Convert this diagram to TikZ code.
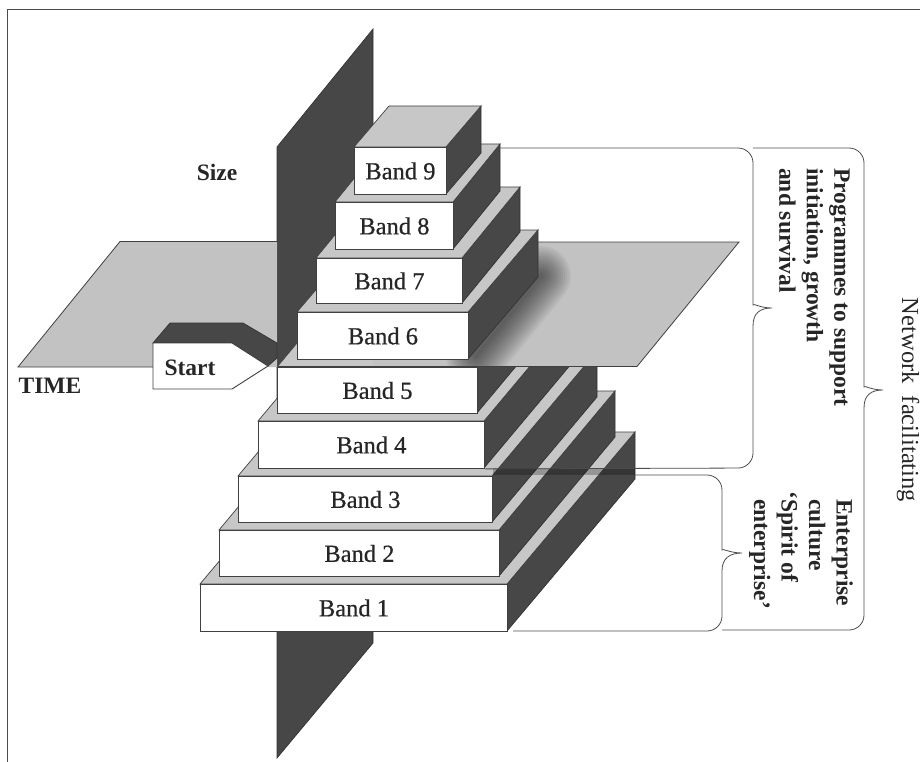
\documentclass[tikz,border=0pt]{standalone}
\usepackage{fontspec}
\setmainfont{Liberation Serif}
\newfontfamily\bandfont[FakeBold=0.6]{Liberation Serif}
\begin{document}
\begin{tikzpicture}[
      x=1pt, y=-1pt,
      darkface/.style={fill=black!72, draw=black!80, line width=0.7pt},
      lightface/.style={fill=black!22, draw=black!75, line width=0.7pt},
      whiteface/.style={fill=white, draw=black!75, line width=0.9pt},
      brace/.style={draw=black!70, line width=0.8pt, rounded corners=15pt},
      bandlabel/.style={font=\fontsize{24.5}{28}\bandfont, text=black!85, inner sep=0pt},
      boldlabel/.style={font=\fontsize{23.5}{27.5}\selectfont\bfseries, text=black!85, inner sep=0pt},
      sidelabel/.style={boldlabel, rotate=-90, align=left, anchor=north west}
    ]
      \useasboundingbox (0,0) rectangle (920,762);

      % Frame
      \draw[black!70, line width=0.9pt] (920,9) -- (7,9) -- (7,762);

      % Vertical plane
      \coordinate (sizetop) at (373,29);
      \coordinate (sizebot) at (277,758);
      \draw[darkface] (277,147) -- (sizetop) -- (373,643) -- (sizebot) -- cycle;

      % Bands under the time plane
      \foreach \n/\l/\t/\r/\b/\dx/\dy in {1/200/584/507/631/128/152, 2/219/530/499/576/116/139,
          3/238/476/492/522/105/125, 4/258/421/484/468/93/111, 5/277/367/477/413/81/97} {
        \draw[darkface] (\r,\t) -- ++(\dx,-\dy) -- ++(0,\b-\t) -- (\r,\b) -- cycle;
        \draw[lightface] (\l,\t) -- ++(\dx,-\dy) -- ++(\r-\l,0) -- (\r,\t) -- cycle;
        \node[whiteface, bandlabel, minimum width=\r-\l, minimum height=\b-\t, anchor=north west] (band\n) at (\l,\t) {Band \n};
      }

      % Time plane
      \coordinate (timeleft) at (18,367);
      \fill[black!24] (373,242) -- (739,242) -- (637,366.5) -- (373,366.5) -- cycle;
      \begin{scope}
        \clip (373,242) -- (739,242) -- (637,366.5) -- (373,366.5) -- cycle;
        \foreach \w in {4,8,...,60}
          \draw[black, opacity=0.045, line width=\w, line cap=round] (476,356) -- (541,276);
      \end{scope}
      \draw[black!75, line width=0.8pt] (373,242) -- (739,242) -- (637,366.5) -- (277,366.5);
      \fill[black!24] (120,241.5) -- (277,241.5) -- (277,367) -- (timeleft) -- cycle;
      \draw[black!75, line width=0.8pt] (277,241.5) -- (120,241.5) -- (timeleft) -- (153,367);

      % Darker line across the lower steps
      \fill[black, opacity=0.25] (493,468) rectangle (635,475);

      % Bands above the time plane
      \foreach \n/\l/\t/\r/\b/\dx/\dy in {6/297/312/468/359/70/82, 7/316/258/462/303/58/71,
          8/335/202/453/249/47/58, 9/354/147/446/194/35/41} {
        \draw[darkface] (\r,\t) -- ++(\dx,-\dy) -- ++(0,\b-\t) -- (\r,\b) -- cycle;
        \draw[lightface] (\l,\t) -- ++(\dx,-\dy) -- ++(\r-\l,0) -- (\r,\t) -- cycle;
        \node[whiteface, bandlabel, minimum width=\r-\l, minimum height=\b-\t, anchor=north west] (band\n) at (\l,\t) {Band \n};
      }

      % Start marker
      \draw[darkface] (153,343) -- (170,323) -- (243,323) -- (277,343) -- (277,358) -- (268,366) -- (232,343) -- cycle;
      \draw[whiteface] (153,343) -- (232,343) -- (268,366) -- (232,389) -- (153,389) -- cycle;
      \node[boldlabel] (start) at (190,368) {Start};

      % Axis labels
      \node[boldlabel] (size) at (217,172) {Size};
      \node[boldlabel] (time) at (50,386) {TIME};

      % Braces
      \draw[brace] (500,148) -- (753,148) -- (753,290) [sharp corners] .. controls (753,303) and (760,308) .. (772,308)
        .. controls (760,308) and (753,313) .. (753,326) [rounded corners=15pt] -- (753,468) -- (band4.south east);
      \draw[brace] (635,475) -- (722,475) -- (722,535) [sharp corners] .. controls (722,548) and (730,553) .. (742,553)
        .. controls (730,553) and (722,558) .. (722,571) [rounded corners=15pt] -- (722,631) -- (513,631);
      \draw[brace] (753,148) -- (864,148) -- (864,372) [sharp corners] .. controls (864,385) and (871,390) .. (883,390)
        .. controls (871,390) and (864,395) .. (864,408) [rounded corners=15pt] -- (864,630) -- (722,630);

      % Brace labels
      \node[sidelabel] (programmes) at (850,168) {Programmes to support\\initiation, growth\\and survival};
      \node[sidelabel] (culture) at (853,499) {Enterprise\\culture\\\llap{`}Spirit of\\enterprise'};
      \node[font=\fontsize{24.5}{28}\selectfont, text=black!85, inner sep=0pt, rotate=-90] (network) at (908,400) {Network\ \ facilitating};
    \end{tikzpicture}
\end{document}
